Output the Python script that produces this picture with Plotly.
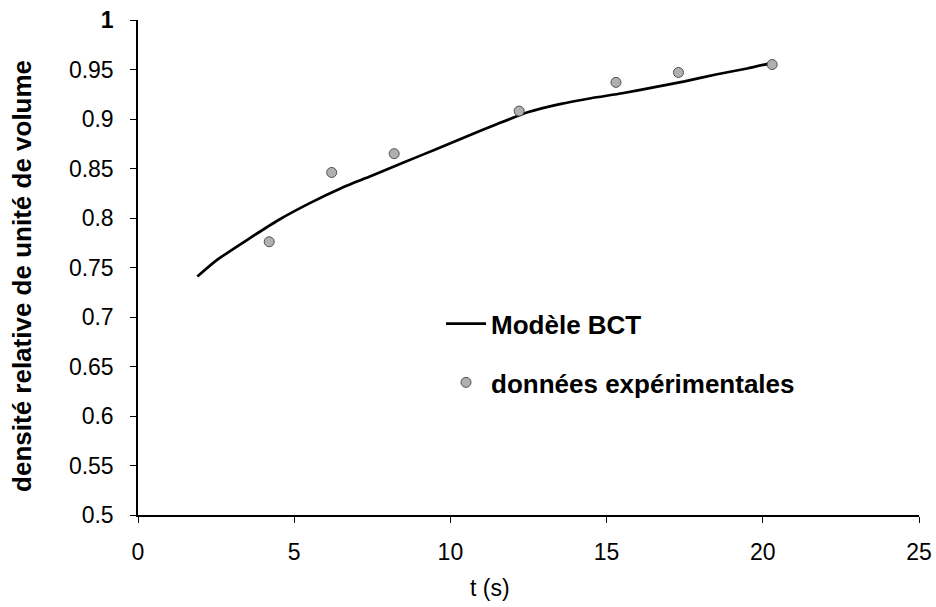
import plotly.graph_objects as go

# Model curve (Modèle BCT)
model_t = [1.9, 2.5, 3.5, 4.5, 5.5, 6.5, 7.5, 8.5, 9.5, 10.5, 11.5, 12.5,
           13.5, 14.5, 15.5, 16.5, 17.5, 18.5, 19.5, 20.2]
model_d = [0.741, 0.757, 0.778, 0.798, 0.815, 0.830, 0.843, 0.856, 0.869,
           0.882, 0.895, 0.907, 0.915, 0.921, 0.926, 0.932, 0.938, 0.945,
           0.951, 0.956]

# Experimental data (données expérimentales)
exp_t = [4.2, 6.2, 8.2, 12.2, 15.3, 17.3, 20.3]
exp_d = [0.776, 0.846, 0.865, 0.908, 0.937, 0.947, 0.955]

x_ticks = [0, 5, 10, 15, 20, 25]
y_ticks = [0.5, 0.55, 0.6, 0.65, 0.7, 0.75, 0.8, 0.85, 0.9, 0.95, 1]
y_labels = ["0.5", "0.55", "0.6", "0.65", "0.7", "0.75", "0.8", "0.85", "0.9", "0.95", "<b>1</b>"]

FONT = "Liberation Sans, Arial, sans-serif"

fig = go.Figure()
fig.add_trace(go.Scatter(
    x=model_t, y=model_d, mode="lines", name="Modèle BCT",
    line=dict(color="black", width=2.7, shape="spline", smoothing=0.6),
    legendgroup="a",
))
fig.add_trace(go.Scatter(
    x=exp_t, y=exp_d, mode="markers", name="données expérimentales",
    marker=dict(symbol="circle", size=10, color="#b0b0b0",
                line=dict(color="#505050", width=1)),
    legendgroup="b",
))

fig.update_layout(
    width=936, height=607,
    margin=dict(l=138, r=17, t=20, b=92),
    paper_bgcolor="white", plot_bgcolor="white",
    font=dict(family=FONT, color="black"),
    showlegend=True,
    legend=dict(x=0.388, y=0.434, xanchor="left", yanchor="top",
                bgcolor="rgba(0,0,0,0)", borderwidth=0,
                font=dict(size=26, family=FONT, color="black", weight="bold"),
                tracegroupgap=22, itemwidth=40),
    xaxis=dict(range=[0, 25], tickvals=x_ticks, ticks="outside", ticklen=6,
               tickcolor="black", showline=True, linecolor="black", linewidth=1.5,
               showgrid=False, zeroline=False, automargin=False,
               ticklabelstandoff=10, ticklabeloverflow="allow",
               tickfont=dict(size=23, family=FONT)),
    yaxis=dict(range=[0.5, 1], tickvals=y_ticks, ticktext=y_labels, ticks="outside",
               ticklen=6, tickcolor="black", showline=True, linecolor="black",
               linewidth=1.5, showgrid=False, zeroline=False, automargin=False,
               ticklabelstandoff=12, ticklabeloverflow="allow",
               tickfont=dict(size=23, family=FONT)),
    annotations=[
        dict(text="t (s)", xref="paper", yref="paper",
             x=(490 - 138) / 781, y=-0.147, showarrow=False,
             xanchor="center", yanchor="middle",
             font=dict(size=23, family=FONT, color="black")),
        dict(text="<b>densité relative de unité de volume</b>", xref="paper", yref="paper",
             x=-0.1485, y=0.483, showarrow=False, textangle=-90,
             xanchor="center", yanchor="middle",
             font=dict(size=26, family=FONT, color="black")),
    ],
)

# remove the default page margin so the 936x607 figure fills the window exactly
fig.write_html(
    "out.html",
    config={"displayModeBar": False},
    post_script="document.body.style.margin='0';"
                "document.documentElement.style.overflow='hidden';",
)
